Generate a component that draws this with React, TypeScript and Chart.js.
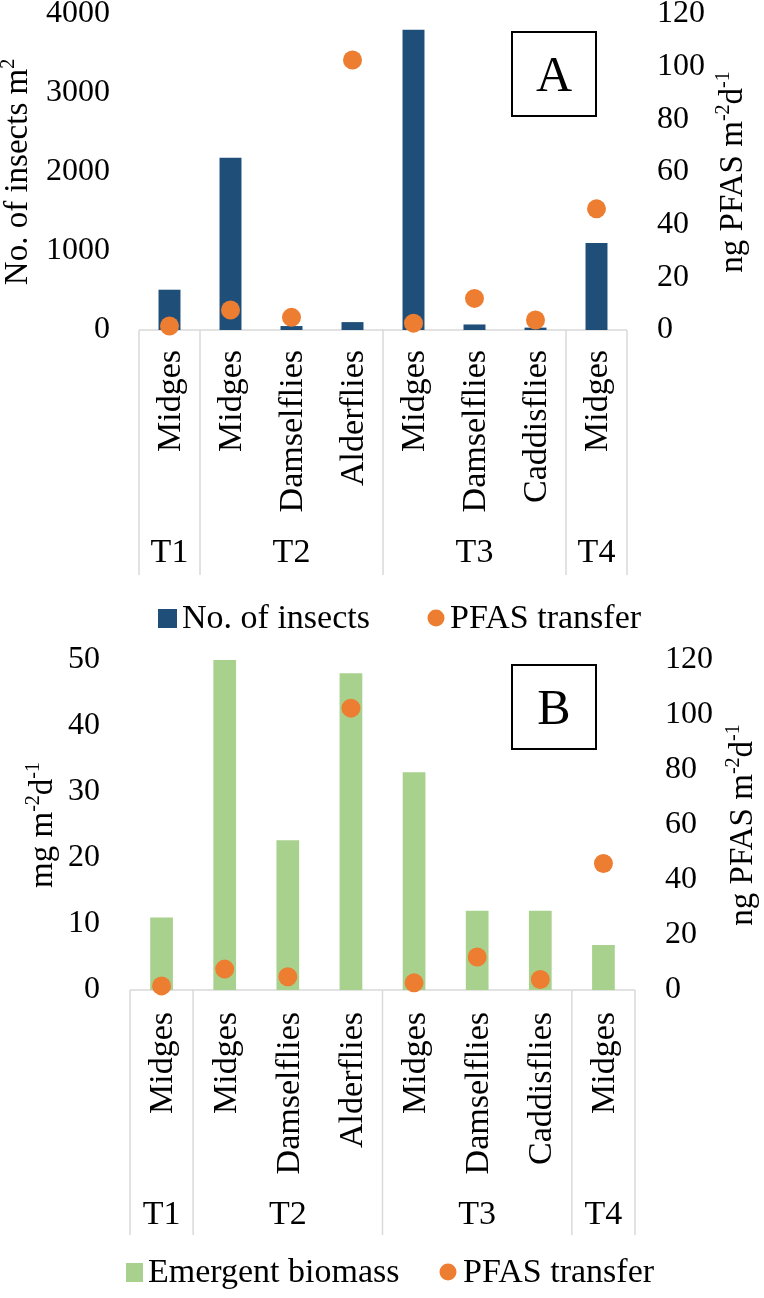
import React, { useEffect, useRef } from 'react';
import { Chart, registerables } from 'chart.js';

Chart.register(...registerables);

const FONT = "'Liberation Serif', 'Times New Roman', serif";

// ---------- data ----------
const categories = ['Midges', 'Midges', 'Damselflies', 'Alderflies', 'Midges', 'Damselflies', 'Caddisflies', 'Midges'];
const siteLabels = ['T1', 'T2', 'T3', 'T4'];
const siteSizes = [1, 3, 3, 1];
const insectCounts = [510, 2180, 50, 100, 3800, 70, 30, 1100];
const emergentBiomass = [11, 50, 22.7, 48, 33, 12, 12, 6.8];
const pfasTransfer = [1.5, 7.6, 4.8, 102.5, 2.6, 12, 3.8, 46];

const BLUE = '#1F4E79';
const GREEN = '#A9D18E';
const ORANGE = '#ED7D31';
const GRID = '#D9D9D9';

const TICK_SIZE = 32;
const LABEL_SIZE = 34;
const TITLE_SIZE = 33;

type Part = { t: string; sup?: boolean };

type PanelCfg = {
  height: number;
  top: number;
  plotLeft: number;
  plotRight: number;
  plotBottom: number;
  barValues: number[];
  barColor: string;
  barLabel: string;
  leftMax: number;
  leftStep: number;
  leftTitle: Part[];
  leftTitleX: number;
  rightTitle: Part[];
  rightTitleX: number;
  leftTickPad: number;
  rightTickPad: number;
  letter: string;
  box: { x: number; y: number; w: number; h: number };
  labelGap: number;
  siteY: number;
  sepEnd: number;
  legendY: number;
  legSqX: number;
  legSqW: number;
  legTextX: number;
  legDotX: number;
  legDotTextX: number;
};

const panelA: PanelCfg = {
  height: 645,
  top: 14,
  plotLeft: 139,
  plotRight: 627,
  plotBottom: 330,
  barValues: insectCounts,
  barColor: BLUE,
  barLabel: 'No. of insects',
  leftMax: 4000,
  leftStep: 1000,
  leftTitle: [{ t: 'No. of insects m' }, { t: '2', sup: true }],
  leftTitleX: 27,
  rightTitle: [{ t: 'ng PFAS m' }, { t: '-2', sup: true }, { t: 'd' }, { t: '-1', sup: true }],
  rightTitleX: 742,
  leftTickPad: 29,
  rightTickPad: 30,
  letter: 'A',
  box: { x: 512, y: 32, w: 84, h: 84 },
  labelGap: 20,
  siteY: 553,
  sepEnd: 575,
  legendY: 618,
  legSqX: 158,
  legSqW: 19,
  legTextX: 182,
  legDotX: 436,
  legDotTextX: 450,
};

const panelB: PanelCfg = {
  height: 653,
  top: 15,
  plotLeft: 130,
  plotRight: 635,
  plotBottom: 345,
  barValues: emergentBiomass,
  barColor: GREEN,
  barLabel: 'Emergent biomass',
  leftMax: 50,
  leftStep: 10,
  leftTitle: [{ t: 'mg m' }, { t: '-2', sup: true }, { t: 'd' }, { t: '-1', sup: true }],
  leftTitleX: 52,
  rightTitle: [{ t: 'ng PFAS m' }, { t: '-2', sup: true }, { t: 'd' }, { t: '-1', sup: true }],
  rightTitleX: 752,
  leftTickPad: 30,
  rightTickPad: 30,
  letter: 'B',
  box: { x: 512, y: 20, w: 84, h: 84 },
  labelGap: 22,
  siteY: 570,
  sepEnd: 590,
  legendY: 627,
  legSqX: 126,
  legSqW: 17,
  legTextX: 148,
  legDotX: 448,
  legDotTextX: 463,
};

function drawRich(ctx: CanvasRenderingContext2D, parts: Part[], baseX: number, cy: number, size: number) {
  const supSize = Math.round(size * 0.62);
  ctx.save();
  ctx.translate(baseX, cy);
  ctx.rotate(-Math.PI / 2);
  let total = 0;
  const widths = parts.map((p) => {
    ctx.font = `${p.sup ? supSize : size}px ${FONT}`;
    const w = ctx.measureText(p.t).width;
    total += w;
    return w;
  });
  let x = -total / 2;
  ctx.textAlign = 'left';
  ctx.textBaseline = 'alphabetic';
  ctx.fillStyle = '#000';
  parts.forEach((p, i) => {
    ctx.font = `${p.sup ? supSize : size}px ${FONT}`;
    ctx.fillText(p.t, x, p.sup ? -size * 0.4 : 0);
    x += widths[i];
  });
  ctx.restore();
}

function buildChart(canvas: HTMLCanvasElement, cfg: PanelCfg) {
  const decor = {
    id: 'decor',
    beforeDatasetsDraw(chart: any) {
      const { ctx, chartArea } = chart;
      ctx.save();
      ctx.strokeStyle = GRID;
      ctx.lineWidth = 1.5;
      ctx.beginPath();
      ctx.moveTo(chartArea.left, chartArea.bottom);
      ctx.lineTo(chartArea.right, chartArea.bottom);
      ctx.stroke();
      ctx.restore();
    },
    afterDraw(chart: any) {
      const ctx: CanvasRenderingContext2D = chart.ctx;
      const xs = chart.scales.x;
      const area = chart.chartArea;
      const px = (i: number) => xs.getPixelForValue(i);
      const half = (px(1) - px(0)) / 2;
      const bounds: number[] = [px(0) - half];
      let idx = 0;
      siteSizes.forEach((s) => {
        idx += s;
        bounds.push(px(idx - 1) + half);
      });
      ctx.save();
      // separators
      ctx.strokeStyle = GRID;
      ctx.lineWidth = 1.5;
      bounds.forEach((b) => {
        ctx.beginPath();
        ctx.moveTo(b, area.bottom);
        ctx.lineTo(b, cfg.sepEnd);
        ctx.stroke();
      });
      // category labels
      ctx.fillStyle = '#000';
      ctx.font = `${LABEL_SIZE}px ${FONT}`;
      categories.forEach((c, i) => {
        ctx.save();
        ctx.translate(px(i) + 2, area.bottom + cfg.labelGap);
        ctx.rotate(-Math.PI / 2);
        ctx.textAlign = 'right';
        ctx.textBaseline = 'middle';
        ctx.fillText(c, 0, 0);
        ctx.restore();
      });
      // site labels
      ctx.textAlign = 'center';
      ctx.textBaseline = 'middle';
      siteLabels.forEach((s, k) => {
        ctx.fillText(s, (bounds[k] + bounds[k + 1]) / 2, cfg.siteY);
      });
      // axis titles
      const cy = (area.top + area.bottom) / 2;
      drawRich(ctx, cfg.leftTitle, cfg.leftTitleX, cy, TITLE_SIZE);
      drawRich(ctx, cfg.rightTitle, cfg.rightTitleX, cy, TITLE_SIZE);
      // panel letter box
      const b = cfg.box;
      ctx.fillStyle = '#fff';
      ctx.fillRect(b.x, b.y, b.w, b.h);
      ctx.strokeStyle = '#000';
      ctx.lineWidth = 2;
      ctx.strokeRect(b.x, b.y, b.w, b.h);
      ctx.fillStyle = '#000';
      ctx.font = `50px ${FONT}`;
      ctx.textAlign = 'center';
      ctx.textBaseline = 'alphabetic';
      ctx.fillText(cfg.letter, b.x + b.w / 2, b.y + b.h / 2 + 17);
      // legend
      ctx.font = `${LABEL_SIZE}px ${FONT}`;
      ctx.textAlign = 'left';
      ctx.textBaseline = 'middle';
      ctx.fillStyle = cfg.barColor;
      ctx.fillRect(cfg.legSqX, cfg.legendY - 9, cfg.legSqW, 19);
      ctx.fillStyle = '#000';
      ctx.fillText(cfg.barLabel, cfg.legTextX, cfg.legendY + 1);
      ctx.fillStyle = ORANGE;
      ctx.beginPath();
      ctx.arc(cfg.legDotX, cfg.legendY, 8.5, 0, Math.PI * 2);
      ctx.fill();
      ctx.fillStyle = '#000';
      ctx.fillText('PFAS transfer', cfg.legDotTextX, cfg.legendY + 1);
      ctx.restore();
    },
  };

  const tickFont = { family: FONT, size: TICK_SIZE };

  return new Chart(canvas, {
    type: 'bar',
    data: {
      labels: categories,
      datasets: [
        {
          type: 'line',
          label: 'PFAS transfer',
          data: pfasTransfer,
          yAxisID: 'y1',
          showLine: false,
          pointRadius: 9.5,
          pointHoverRadius: 9.5,
          pointBackgroundColor: ORANGE,
          pointBorderWidth: 0,
          borderColor: ORANGE,
          backgroundColor: ORANGE,
          clip: false,
          order: 0,
        } as any,
        {
          type: 'bar',
          label: cfg.barLabel,
          data: cfg.barValues,
          yAxisID: 'y',
          backgroundColor: cfg.barColor,
          barPercentage: 0.9,
          categoryPercentage: 0.4,
          order: 1,
        } as any,
      ],
    },
    options: {
      responsive: false,
      animation: false,
      events: [],
      layout: { padding: { top: cfg.top, left: 0, right: 0, bottom: 0 } },
      plugins: { legend: { display: false }, tooltip: { enabled: false } },
      scales: {
        x: {
          type: 'category',
          grid: { display: false, drawTicks: false },
          border: { display: false },
          ticks: { display: false },
          afterFit: (s: any) => {
            s.height = cfg.height - cfg.plotBottom;
            s.paddingLeft = 0;
            s.paddingRight = 0;
          },
        },
        y: {
          position: 'left',
          min: 0,
          max: cfg.leftMax,
          grid: { display: false, drawTicks: false },
          border: { display: false },
          ticks: {
            stepSize: cfg.leftStep,
            padding: cfg.leftTickPad,
            color: '#000',
            font: tickFont,
            callback: (v: any) => String(v),
          },
          afterFit: (s: any) => {
            s.width = cfg.plotLeft;
            s.paddingTop = 0;
            s.paddingBottom = 0;
          },
        },
        y1: {
          position: 'right',
          min: 0,
          max: 120,
          grid: { display: false, drawTicks: false },
          border: { display: false },
          ticks: {
            stepSize: 20,
            padding: cfg.rightTickPad,
            color: '#000',
            font: tickFont,
            callback: (v: any) => String(v),
          },
          afterFit: (s: any) => {
            s.width = 764 - cfg.plotRight;
            s.paddingTop = 0;
            s.paddingBottom = 0;
          },
        },
      },
    } as any,
    plugins: [decor],
  });
}

function Panel({ cfg, top }: { cfg: PanelCfg; top: number }) {
  const ref = useRef<HTMLCanvasElement>(null);
  useEffect(() => {
    if (!ref.current) return;
    const chart = buildChart(ref.current, cfg);
    return () => chart.destroy();
  }, [cfg]);
  return (
    <canvas
      ref={ref}
      width={764}
      height={cfg.height}
      style={{ position: 'absolute', left: 0, top, width: 764, height: cfg.height, display: 'block' }}
    />
  );
}

export default function App() {
  return (
    <div style={{ position: 'absolute', left: 0, top: 0, width: 764, height: 1298, background: '#fff' }}>
      <Panel cfg={panelA} top={0} />
      <Panel cfg={panelB} top={645} />
    </div>
  );
}
